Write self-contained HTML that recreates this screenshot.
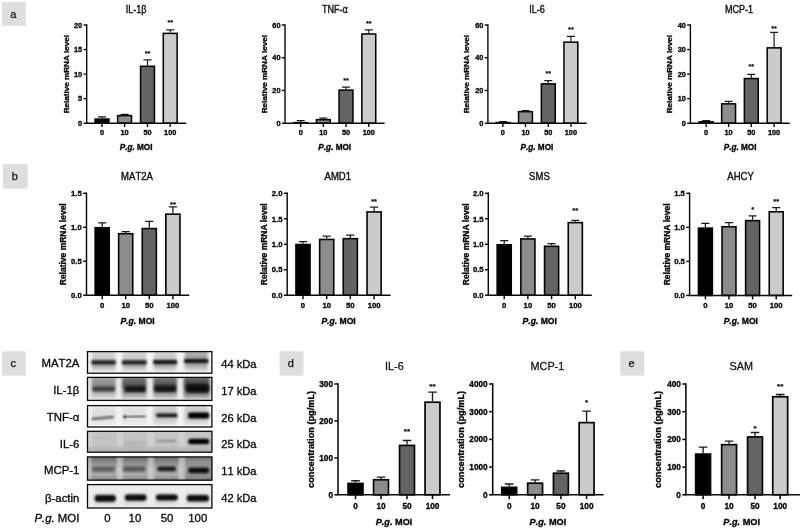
<!DOCTYPE html>
<html><head><meta charset="utf-8"><title>Figure</title>
<style>
html,body{margin:0;padding:0;background:#fff;}
svg{display:block;font-kerning:none;font-family:"Liberation Sans",sans-serif;}
text{fill:#111;}
text.b{stroke:#111;stroke-width:0.35px;fill:#000;}
text.t{stroke:#1a1a1a;stroke-width:0.3px;}
text.w{fill:#0a0a0a;stroke:#0a0a0a;stroke-width:0.32px;}
text.l{fill:#111;stroke:#111;stroke-width:0.25px;}
</style></head><body>
<svg width="800" height="530" viewBox="0 0 800 530">
<rect width="800" height="530" fill="#ffffff"/>
<rect x="2" y="2" width="23.8" height="24" fill="#dedede"/>
<text x="13.30" y="17.60" font-size="11" font-weight="normal" text-anchor="middle" class="l">a</text>
<path d="M102.00 118.29V116.82M98.00 116.82H106.00" stroke="#1c1c1c" stroke-width="1.20" fill="none"/>
<rect x="95.08" y="119.07" width="13.85" height="4.13" fill="#000000" stroke="#050505" stroke-width="1.55"/>
<path d="M124.60 114.85V114.36M120.60 114.36H128.60" stroke="#1c1c1c" stroke-width="1.20" fill="none"/>
<rect x="117.67" y="115.63" width="13.85" height="7.57" fill="#8c8c8c" stroke="#050505" stroke-width="1.55"/>
<path d="M147.50 65.51V59.86M143.50 59.86H151.50" stroke="#1c1c1c" stroke-width="1.20" fill="none"/>
<rect x="140.58" y="66.28" width="13.85" height="56.92" fill="#646464" stroke="#050505" stroke-width="1.55"/>
<text x="147.50" y="55.80" font-size="7.2" font-weight="bold" text-anchor="middle" style="stroke-width:0.15px" class="b">**</text>
<path d="M170.20 32.61V29.91M166.20 29.91H174.20" stroke="#1c1c1c" stroke-width="1.20" fill="none"/>
<rect x="163.28" y="33.39" width="13.85" height="89.81" fill="#cbcbcb" stroke="#050505" stroke-width="1.55"/>
<text x="170.20" y="24.90" font-size="7.2" font-weight="bold" text-anchor="middle" style="stroke-width:0.15px" class="b">**</text>
<path d="M86.70 24.30V123.90M86.00 123.20H186.30" stroke="#0a0a0a" stroke-width="1.40" fill="none"/>
<path d="M83.50 123.20H86.70" stroke="#0a0a0a" stroke-width="1.40"/>
<text x="82.20" y="125.80" font-size="7.35" font-weight="bold" text-anchor="end"  class="b">0</text>
<path d="M83.50 98.65H86.70" stroke="#0a0a0a" stroke-width="1.40"/>
<text x="82.20" y="101.25" font-size="7.35" font-weight="bold" text-anchor="end"  class="b">5</text>
<path d="M83.50 74.10H86.70" stroke="#0a0a0a" stroke-width="1.40"/>
<text x="82.20" y="76.70" font-size="7.35" font-weight="bold" text-anchor="end"  class="b">10</text>
<path d="M83.50 49.55H86.70" stroke="#0a0a0a" stroke-width="1.40"/>
<text x="82.20" y="52.15" font-size="7.35" font-weight="bold" text-anchor="end"  class="b">15</text>
<path d="M83.50 25.00H86.70" stroke="#0a0a0a" stroke-width="1.40"/>
<text x="82.20" y="27.60" font-size="7.35" font-weight="bold" text-anchor="end"  class="b">20</text>
<path d="M102.00 123.20V127.10" stroke="#0a0a0a" stroke-width="1.40"/>
<text x="102.00" y="135.10" font-size="7.35" font-weight="bold" text-anchor="middle"  class="b">0</text>
<path d="M124.60 123.20V127.10" stroke="#0a0a0a" stroke-width="1.40"/>
<text x="124.60" y="135.10" font-size="7.35" font-weight="bold" text-anchor="middle"  class="b">10</text>
<path d="M147.50 123.20V127.10" stroke="#0a0a0a" stroke-width="1.40"/>
<text x="147.50" y="135.10" font-size="7.35" font-weight="bold" text-anchor="middle"  class="b">50</text>
<path d="M170.20 123.20V127.10" stroke="#0a0a0a" stroke-width="1.40"/>
<text x="170.20" y="135.10" font-size="7.35" font-weight="bold" text-anchor="middle"  class="b">100</text>
<text x="136.10" y="150.30" font-size="8.20" font-weight="bold" class="b" text-anchor="middle"><tspan font-style="italic">P.g.</tspan> MOI</text>
<text transform="translate(66.00 74.10) rotate(-90)" font-size="8.10" font-weight="bold" class="b" text-anchor="middle" y="2.90">Relative mRNA level</text>
<text transform="translate(136.00 12.80) scale(0.885 1)" font-size="10.2" text-anchor="middle" fill="#111" class="t" style="stroke-width:0.42px">IL-1β</text>
<path d="M300.70 121.89V120.58M296.70 120.58H304.70" stroke="#1c1c1c" stroke-width="1.20" fill="none"/>
<rect x="293.77" y="122.67" width="13.85" height="0.53" fill="#000000" stroke="#050505" stroke-width="1.55"/>
<path d="M323.30 118.94V118.13M319.30 118.13H327.30" stroke="#1c1c1c" stroke-width="1.20" fill="none"/>
<rect x="316.38" y="119.72" width="13.85" height="3.48" fill="#8c8c8c" stroke="#050505" stroke-width="1.55"/>
<path d="M346.00 89.32V87.19M342.00 87.19H350.00" stroke="#1c1c1c" stroke-width="1.20" fill="none"/>
<rect x="339.07" y="90.10" width="13.85" height="33.10" fill="#646464" stroke="#050505" stroke-width="1.55"/>
<text x="346.00" y="82.70" font-size="7.2" font-weight="bold" text-anchor="middle" style="stroke-width:0.15px" class="b">**</text>
<path d="M368.80 33.18V29.91M364.80 29.91H372.80" stroke="#1c1c1c" stroke-width="1.20" fill="none"/>
<rect x="361.88" y="33.96" width="13.85" height="89.24" fill="#cbcbcb" stroke="#050505" stroke-width="1.55"/>
<text x="368.80" y="26.20" font-size="7.2" font-weight="bold" text-anchor="middle" style="stroke-width:0.15px" class="b">**</text>
<path d="M285.00 24.30V123.90M284.30 123.20H384.60" stroke="#0a0a0a" stroke-width="1.40" fill="none"/>
<path d="M281.80 123.20H285.00" stroke="#0a0a0a" stroke-width="1.40"/>
<text x="280.50" y="125.80" font-size="7.35" font-weight="bold" text-anchor="end"  class="b">0</text>
<path d="M281.80 90.47H285.00" stroke="#0a0a0a" stroke-width="1.40"/>
<text x="280.50" y="93.07" font-size="7.35" font-weight="bold" text-anchor="end"  class="b">20</text>
<path d="M281.80 57.73H285.00" stroke="#0a0a0a" stroke-width="1.40"/>
<text x="280.50" y="60.33" font-size="7.35" font-weight="bold" text-anchor="end"  class="b">40</text>
<path d="M281.80 25.00H285.00" stroke="#0a0a0a" stroke-width="1.40"/>
<text x="280.50" y="27.60" font-size="7.35" font-weight="bold" text-anchor="end"  class="b">60</text>
<path d="M300.70 123.20V127.10" stroke="#0a0a0a" stroke-width="1.40"/>
<text x="300.70" y="135.10" font-size="7.35" font-weight="bold" text-anchor="middle"  class="b">0</text>
<path d="M323.30 123.20V127.10" stroke="#0a0a0a" stroke-width="1.40"/>
<text x="323.30" y="135.10" font-size="7.35" font-weight="bold" text-anchor="middle"  class="b">10</text>
<path d="M346.00 123.20V127.10" stroke="#0a0a0a" stroke-width="1.40"/>
<text x="346.00" y="135.10" font-size="7.35" font-weight="bold" text-anchor="middle"  class="b">50</text>
<path d="M368.80 123.20V127.10" stroke="#0a0a0a" stroke-width="1.40"/>
<text x="368.80" y="135.10" font-size="7.35" font-weight="bold" text-anchor="middle"  class="b">100</text>
<text x="334.75" y="150.30" font-size="8.20" font-weight="bold" class="b" text-anchor="middle"><tspan font-style="italic">P.g.</tspan> MOI</text>
<text transform="translate(264.50 74.10) rotate(-90)" font-size="8.10" font-weight="bold" class="b" text-anchor="middle" y="2.90">Relative mRNA level</text>
<text transform="translate(334.80 12.80) scale(0.885 1)" font-size="10.2" text-anchor="middle" fill="#111" class="t" style="stroke-width:0.42px">TNF-α</text>
<path d="M502.90 121.81V121.56M498.90 121.56H506.90" stroke="#1c1c1c" stroke-width="1.20" fill="none"/>
<rect x="495.97" y="122.58" width="13.85" height="0.62" fill="#000000" stroke="#050505" stroke-width="1.55"/>
<path d="M525.50 110.92V110.60M521.50 110.60H529.50" stroke="#1c1c1c" stroke-width="1.20" fill="none"/>
<rect x="518.57" y="111.70" width="13.85" height="11.50" fill="#8c8c8c" stroke="#050505" stroke-width="1.55"/>
<path d="M548.30 83.10V80.65M544.30 80.65H552.30" stroke="#1c1c1c" stroke-width="1.20" fill="none"/>
<rect x="541.37" y="83.88" width="13.85" height="39.32" fill="#646464" stroke="#050505" stroke-width="1.55"/>
<text x="548.30" y="76.00" font-size="7.2" font-weight="bold" text-anchor="middle" style="stroke-width:0.15px" class="b">**</text>
<path d="M570.90 41.37V36.46M566.90 36.46H574.90" stroke="#1c1c1c" stroke-width="1.20" fill="none"/>
<rect x="563.97" y="42.14" width="13.85" height="81.06" fill="#cbcbcb" stroke="#050505" stroke-width="1.55"/>
<text x="570.90" y="32.20" font-size="7.2" font-weight="bold" text-anchor="middle" style="stroke-width:0.15px" class="b">**</text>
<path d="M487.90 24.30V123.90M487.20 123.20H586.80" stroke="#0a0a0a" stroke-width="1.40" fill="none"/>
<path d="M484.70 123.20H487.90" stroke="#0a0a0a" stroke-width="1.40"/>
<text x="483.40" y="125.80" font-size="7.35" font-weight="bold" text-anchor="end"  class="b">0</text>
<path d="M484.70 90.47H487.90" stroke="#0a0a0a" stroke-width="1.40"/>
<text x="483.40" y="93.07" font-size="7.35" font-weight="bold" text-anchor="end"  class="b">20</text>
<path d="M484.70 57.73H487.90" stroke="#0a0a0a" stroke-width="1.40"/>
<text x="483.40" y="60.33" font-size="7.35" font-weight="bold" text-anchor="end"  class="b">40</text>
<path d="M484.70 25.00H487.90" stroke="#0a0a0a" stroke-width="1.40"/>
<text x="483.40" y="27.60" font-size="7.35" font-weight="bold" text-anchor="end"  class="b">60</text>
<path d="M502.90 123.20V127.10" stroke="#0a0a0a" stroke-width="1.40"/>
<text x="502.90" y="135.10" font-size="7.35" font-weight="bold" text-anchor="middle"  class="b">0</text>
<path d="M525.50 123.20V127.10" stroke="#0a0a0a" stroke-width="1.40"/>
<text x="525.50" y="135.10" font-size="7.35" font-weight="bold" text-anchor="middle"  class="b">10</text>
<path d="M548.30 123.20V127.10" stroke="#0a0a0a" stroke-width="1.40"/>
<text x="548.30" y="135.10" font-size="7.35" font-weight="bold" text-anchor="middle"  class="b">50</text>
<path d="M570.90 123.20V127.10" stroke="#0a0a0a" stroke-width="1.40"/>
<text x="570.90" y="135.10" font-size="7.35" font-weight="bold" text-anchor="middle"  class="b">100</text>
<text x="536.90" y="150.30" font-size="8.20" font-weight="bold" class="b" text-anchor="middle"><tspan font-style="italic">P.g.</tspan> MOI</text>
<text transform="translate(466.50 74.10) rotate(-90)" font-size="8.10" font-weight="bold" class="b" text-anchor="middle" y="2.90">Relative mRNA level</text>
<text transform="translate(537.00 12.80) scale(0.885 1)" font-size="10.2" text-anchor="middle" fill="#111" class="t" style="stroke-width:0.42px">IL-6</text>
<path d="M706.10 120.99V120.50M702.10 120.50H710.10" stroke="#1c1c1c" stroke-width="1.20" fill="none"/>
<rect x="699.17" y="121.77" width="13.85" height="1.43" fill="#000000" stroke="#050505" stroke-width="1.55"/>
<path d="M728.60 103.07V101.35M724.60 101.35H732.60" stroke="#1c1c1c" stroke-width="1.20" fill="none"/>
<rect x="721.67" y="103.84" width="13.85" height="19.36" fill="#8c8c8c" stroke="#050505" stroke-width="1.55"/>
<path d="M751.30 77.78V74.35M747.30 74.35H755.30" stroke="#1c1c1c" stroke-width="1.20" fill="none"/>
<rect x="744.37" y="78.56" width="13.85" height="44.64" fill="#646464" stroke="#050505" stroke-width="1.55"/>
<text x="751.30" y="69.40" font-size="7.2" font-weight="bold" text-anchor="middle" style="stroke-width:0.15px" class="b">**</text>
<path d="M774.10 47.09V32.36M770.10 32.36H778.10" stroke="#1c1c1c" stroke-width="1.20" fill="none"/>
<rect x="767.17" y="47.87" width="13.85" height="75.33" fill="#cbcbcb" stroke="#050505" stroke-width="1.55"/>
<text x="774.10" y="30.50" font-size="7.2" font-weight="bold" text-anchor="middle" style="stroke-width:0.15px" class="b">**</text>
<path d="M690.40 24.30V123.90M689.70 123.20H789.70" stroke="#0a0a0a" stroke-width="1.40" fill="none"/>
<path d="M687.20 123.20H690.40" stroke="#0a0a0a" stroke-width="1.40"/>
<text x="685.90" y="125.80" font-size="7.35" font-weight="bold" text-anchor="end"  class="b">0</text>
<path d="M687.20 98.65H690.40" stroke="#0a0a0a" stroke-width="1.40"/>
<text x="685.90" y="101.25" font-size="7.35" font-weight="bold" text-anchor="end"  class="b">10</text>
<path d="M687.20 74.10H690.40" stroke="#0a0a0a" stroke-width="1.40"/>
<text x="685.90" y="76.70" font-size="7.35" font-weight="bold" text-anchor="end"  class="b">20</text>
<path d="M687.20 49.55H690.40" stroke="#0a0a0a" stroke-width="1.40"/>
<text x="685.90" y="52.15" font-size="7.35" font-weight="bold" text-anchor="end"  class="b">30</text>
<path d="M687.20 25.00H690.40" stroke="#0a0a0a" stroke-width="1.40"/>
<text x="685.90" y="27.60" font-size="7.35" font-weight="bold" text-anchor="end"  class="b">40</text>
<path d="M706.10 123.20V127.10" stroke="#0a0a0a" stroke-width="1.40"/>
<text x="706.10" y="135.10" font-size="7.35" font-weight="bold" text-anchor="middle"  class="b">0</text>
<path d="M728.60 123.20V127.10" stroke="#0a0a0a" stroke-width="1.40"/>
<text x="728.60" y="135.10" font-size="7.35" font-weight="bold" text-anchor="middle"  class="b">10</text>
<path d="M751.30 123.20V127.10" stroke="#0a0a0a" stroke-width="1.40"/>
<text x="751.30" y="135.10" font-size="7.35" font-weight="bold" text-anchor="middle"  class="b">50</text>
<path d="M774.10 123.20V127.10" stroke="#0a0a0a" stroke-width="1.40"/>
<text x="774.10" y="135.10" font-size="7.35" font-weight="bold" text-anchor="middle"  class="b">100</text>
<text x="740.10" y="150.30" font-size="8.20" font-weight="bold" class="b" text-anchor="middle"><tspan font-style="italic">P.g.</tspan> MOI</text>
<text transform="translate(669.50 74.10) rotate(-90)" font-size="8.10" font-weight="bold" class="b" text-anchor="middle" y="2.90">Relative mRNA level</text>
<text transform="translate(739.00 12.80) scale(0.885 1)" font-size="10.2" text-anchor="middle" fill="#111" class="t" style="stroke-width:0.42px">MCP-1</text>
<rect x="3.0" y="164.1" width="24.7" height="24.5" fill="#dedede"/>
<text x="14.75" y="179.95" font-size="11" font-weight="normal" text-anchor="middle" class="l">b</text>
<path d="M102.20 226.93V222.85M98.12 222.85H106.28" stroke="#1c1c1c" stroke-width="1.25" fill="none"/>
<rect x="95.15" y="227.73" width="14.10" height="67.47" fill="#000000" stroke="#050505" stroke-width="1.60"/>
<path d="M125.70 232.91V231.68M121.62 231.68H129.78" stroke="#1c1c1c" stroke-width="1.25" fill="none"/>
<rect x="118.65" y="233.71" width="14.10" height="61.49" fill="#8c8c8c" stroke="#050505" stroke-width="1.60"/>
<path d="M149.30 227.74V221.49M145.22 221.49H153.38" stroke="#1c1c1c" stroke-width="1.25" fill="none"/>
<rect x="142.25" y="228.54" width="14.10" height="66.66" fill="#646464" stroke="#050505" stroke-width="1.60"/>
<path d="M172.90 213.34V206.89M168.82 206.89H176.98" stroke="#1c1c1c" stroke-width="1.25" fill="none"/>
<rect x="165.85" y="214.14" width="14.10" height="81.06" fill="#cbcbcb" stroke="#050505" stroke-width="1.60"/>
<text x="172.90" y="206.86" font-size="7.54" font-weight="bold" text-anchor="middle" style="stroke-width:0.15px" class="b">**</text>
<path d="M86.50 192.58V295.93M85.78 295.20H189.20" stroke="#0a0a0a" stroke-width="1.45" fill="none"/>
<path d="M83.15 295.20H86.50" stroke="#0a0a0a" stroke-width="1.45"/>
<text x="81.79" y="297.92" font-size="7.7" font-weight="bold" text-anchor="end"  class="b">0.0</text>
<path d="M83.15 261.23H86.50" stroke="#0a0a0a" stroke-width="1.45"/>
<text x="81.79" y="263.96" font-size="7.7" font-weight="bold" text-anchor="end"  class="b">0.5</text>
<path d="M83.15 227.27H86.50" stroke="#0a0a0a" stroke-width="1.45"/>
<text x="81.79" y="229.99" font-size="7.7" font-weight="bold" text-anchor="end"  class="b">1.0</text>
<path d="M83.15 193.30H86.50" stroke="#0a0a0a" stroke-width="1.45"/>
<text x="81.79" y="196.02" font-size="7.7" font-weight="bold" text-anchor="end"  class="b">1.5</text>
<path d="M102.20 295.20V299.28" stroke="#0a0a0a" stroke-width="1.45"/>
<text x="102.20" y="307.52" font-size="7.7" font-weight="bold" text-anchor="middle"  class="b">0</text>
<path d="M125.70 295.20V299.28" stroke="#0a0a0a" stroke-width="1.45"/>
<text x="125.70" y="307.52" font-size="7.7" font-weight="bold" text-anchor="middle"  class="b">10</text>
<path d="M149.30 295.20V299.28" stroke="#0a0a0a" stroke-width="1.45"/>
<text x="149.30" y="307.52" font-size="7.7" font-weight="bold" text-anchor="middle"  class="b">50</text>
<path d="M172.90 295.20V299.28" stroke="#0a0a0a" stroke-width="1.45"/>
<text x="172.90" y="307.52" font-size="7.7" font-weight="bold" text-anchor="middle"  class="b">100</text>
<text x="137.55" y="324.13" font-size="8.59" font-weight="bold" class="b" text-anchor="middle"><tspan font-style="italic">P.g.</tspan> MOI</text>
<text transform="translate(62.80 244.25) rotate(-90)" font-size="8.48" font-weight="bold" class="b" text-anchor="middle" y="3.04">Relative mRNA level</text>
<text transform="translate(137.00 180.30) scale(0.955 1)" font-size="10.0" text-anchor="middle" fill="#111" class="t" style="stroke-width:0.42px">MAT2A</text>
<path d="M303.00 243.74V241.70M298.92 241.70H307.08" stroke="#1c1c1c" stroke-width="1.25" fill="none"/>
<rect x="295.95" y="244.54" width="14.10" height="50.66" fill="#000000" stroke="#050505" stroke-width="1.60"/>
<path d="M326.70 238.65V236.10M322.62 236.10H330.78" stroke="#1c1c1c" stroke-width="1.25" fill="none"/>
<rect x="319.65" y="239.45" width="14.10" height="55.75" fill="#8c8c8c" stroke="#050505" stroke-width="1.60"/>
<path d="M350.30 237.88V235.08M346.22 235.08H354.38" stroke="#1c1c1c" stroke-width="1.25" fill="none"/>
<rect x="343.25" y="238.68" width="14.10" height="56.52" fill="#646464" stroke="#050505" stroke-width="1.60"/>
<path d="M374.10 211.13V207.06M370.02 207.06H378.18" stroke="#1c1c1c" stroke-width="1.25" fill="none"/>
<rect x="367.05" y="211.93" width="14.10" height="83.27" fill="#cbcbcb" stroke="#050505" stroke-width="1.60"/>
<text x="374.10" y="203.66" font-size="7.54" font-weight="bold" text-anchor="middle" style="stroke-width:0.15px" class="b">**</text>
<path d="M287.20 192.58V295.93M286.47 295.20H390.60" stroke="#0a0a0a" stroke-width="1.45" fill="none"/>
<path d="M283.85 295.20H287.20" stroke="#0a0a0a" stroke-width="1.45"/>
<text x="282.49" y="297.92" font-size="7.7" font-weight="bold" text-anchor="end"  class="b">0.0</text>
<path d="M283.85 269.73H287.20" stroke="#0a0a0a" stroke-width="1.45"/>
<text x="282.49" y="272.45" font-size="7.7" font-weight="bold" text-anchor="end"  class="b">0.5</text>
<path d="M283.85 244.25H287.20" stroke="#0a0a0a" stroke-width="1.45"/>
<text x="282.49" y="246.97" font-size="7.7" font-weight="bold" text-anchor="end"  class="b">1.0</text>
<path d="M283.85 218.78H287.20" stroke="#0a0a0a" stroke-width="1.45"/>
<text x="282.49" y="221.50" font-size="7.7" font-weight="bold" text-anchor="end"  class="b">1.5</text>
<path d="M283.85 193.30H287.20" stroke="#0a0a0a" stroke-width="1.45"/>
<text x="282.49" y="196.02" font-size="7.7" font-weight="bold" text-anchor="end"  class="b">2.0</text>
<path d="M303.00 295.20V299.28" stroke="#0a0a0a" stroke-width="1.45"/>
<text x="303.00" y="307.52" font-size="7.7" font-weight="bold" text-anchor="middle"  class="b">0</text>
<path d="M326.70 295.20V299.28" stroke="#0a0a0a" stroke-width="1.45"/>
<text x="326.70" y="307.52" font-size="7.7" font-weight="bold" text-anchor="middle"  class="b">10</text>
<path d="M350.30 295.20V299.28" stroke="#0a0a0a" stroke-width="1.45"/>
<text x="350.30" y="307.52" font-size="7.7" font-weight="bold" text-anchor="middle"  class="b">50</text>
<path d="M374.10 295.20V299.28" stroke="#0a0a0a" stroke-width="1.45"/>
<text x="374.10" y="307.52" font-size="7.7" font-weight="bold" text-anchor="middle"  class="b">100</text>
<text x="338.55" y="324.13" font-size="8.59" font-weight="bold" class="b" text-anchor="middle"><tspan font-style="italic">P.g.</tspan> MOI</text>
<text transform="translate(264.20 244.25) rotate(-90)" font-size="8.48" font-weight="bold" class="b" text-anchor="middle" y="3.04">Relative mRNA level</text>
<text transform="translate(337.80 180.30) scale(0.955 1)" font-size="10.0" text-anchor="middle" fill="#111" class="t" style="stroke-width:0.42px">AMD1</text>
<path d="M504.20 244.00V240.68M500.12 240.68H508.28" stroke="#1c1c1c" stroke-width="1.25" fill="none"/>
<rect x="497.15" y="244.80" width="14.10" height="50.40" fill="#000000" stroke="#050505" stroke-width="1.60"/>
<path d="M527.90 238.14V236.10M523.82 236.10H531.98" stroke="#1c1c1c" stroke-width="1.25" fill="none"/>
<rect x="520.85" y="238.94" width="14.10" height="56.26" fill="#8c8c8c" stroke="#050505" stroke-width="1.60"/>
<path d="M551.60 245.52V243.74M547.52 243.74H555.68" stroke="#1c1c1c" stroke-width="1.25" fill="none"/>
<rect x="544.55" y="246.32" width="14.10" height="48.88" fill="#646464" stroke="#050505" stroke-width="1.60"/>
<path d="M575.30 221.83V220.30M571.22 220.30H579.38" stroke="#1c1c1c" stroke-width="1.25" fill="none"/>
<rect x="568.25" y="222.63" width="14.10" height="72.57" fill="#cbcbcb" stroke="#050505" stroke-width="1.60"/>
<text x="575.30" y="213.36" font-size="7.54" font-weight="bold" text-anchor="middle" style="stroke-width:0.15px" class="b">**</text>
<path d="M488.30 192.58V295.93M487.57 295.20H591.80" stroke="#0a0a0a" stroke-width="1.45" fill="none"/>
<path d="M484.95 295.20H488.30" stroke="#0a0a0a" stroke-width="1.45"/>
<text x="483.59" y="297.92" font-size="7.7" font-weight="bold" text-anchor="end"  class="b">0.0</text>
<path d="M484.95 269.73H488.30" stroke="#0a0a0a" stroke-width="1.45"/>
<text x="483.59" y="272.45" font-size="7.7" font-weight="bold" text-anchor="end"  class="b">0.5</text>
<path d="M484.95 244.25H488.30" stroke="#0a0a0a" stroke-width="1.45"/>
<text x="483.59" y="246.97" font-size="7.7" font-weight="bold" text-anchor="end"  class="b">1.0</text>
<path d="M484.95 218.78H488.30" stroke="#0a0a0a" stroke-width="1.45"/>
<text x="483.59" y="221.50" font-size="7.7" font-weight="bold" text-anchor="end"  class="b">1.5</text>
<path d="M484.95 193.30H488.30" stroke="#0a0a0a" stroke-width="1.45"/>
<text x="483.59" y="196.02" font-size="7.7" font-weight="bold" text-anchor="end"  class="b">2.0</text>
<path d="M504.20 295.20V299.28" stroke="#0a0a0a" stroke-width="1.45"/>
<text x="504.20" y="307.52" font-size="7.7" font-weight="bold" text-anchor="middle"  class="b">0</text>
<path d="M527.90 295.20V299.28" stroke="#0a0a0a" stroke-width="1.45"/>
<text x="527.90" y="307.52" font-size="7.7" font-weight="bold" text-anchor="middle"  class="b">10</text>
<path d="M551.60 295.20V299.28" stroke="#0a0a0a" stroke-width="1.45"/>
<text x="551.60" y="307.52" font-size="7.7" font-weight="bold" text-anchor="middle"  class="b">50</text>
<path d="M575.30 295.20V299.28" stroke="#0a0a0a" stroke-width="1.45"/>
<text x="575.30" y="307.52" font-size="7.7" font-weight="bold" text-anchor="middle"  class="b">100</text>
<text x="539.75" y="324.13" font-size="8.59" font-weight="bold" class="b" text-anchor="middle"><tspan font-style="italic">P.g.</tspan> MOI</text>
<text transform="translate(466.00 244.25) rotate(-90)" font-size="8.48" font-weight="bold" class="b" text-anchor="middle" y="3.04">Relative mRNA level</text>
<text transform="translate(539.40 180.30) scale(0.955 1)" font-size="10.0" text-anchor="middle" fill="#111" class="t" style="stroke-width:0.42px">SMS</text>
<path d="M705.40 227.33V223.25M701.37 223.25H709.43" stroke="#1c1c1c" stroke-width="1.25" fill="none"/>
<rect x="698.45" y="228.13" width="13.90" height="67.27" fill="#000000" stroke="#050505" stroke-width="1.60"/>
<path d="M729.00 225.97V222.57M724.97 222.57H733.03" stroke="#1c1c1c" stroke-width="1.25" fill="none"/>
<rect x="722.05" y="226.77" width="13.90" height="68.63" fill="#8c8c8c" stroke="#050505" stroke-width="1.60"/>
<path d="M752.60 219.85V215.76M748.57 215.76H756.63" stroke="#1c1c1c" stroke-width="1.25" fill="none"/>
<rect x="745.65" y="220.65" width="13.90" height="74.75" fill="#646464" stroke="#050505" stroke-width="1.60"/>
<text x="752.60" y="212.36" font-size="7.54" font-weight="bold" text-anchor="middle" style="stroke-width:0.15px" class="b">*</text>
<path d="M776.20 211.00V207.59M772.17 207.59H780.23" stroke="#1c1c1c" stroke-width="1.25" fill="none"/>
<rect x="769.25" y="211.80" width="13.90" height="83.60" fill="#cbcbcb" stroke="#050505" stroke-width="1.60"/>
<text x="776.20" y="203.66" font-size="7.54" font-weight="bold" text-anchor="middle" style="stroke-width:0.15px" class="b">**</text>
<path d="M689.60 192.58V296.12M688.88 295.40H792.20" stroke="#0a0a0a" stroke-width="1.45" fill="none"/>
<path d="M686.25 295.40H689.60" stroke="#0a0a0a" stroke-width="1.45"/>
<text x="684.89" y="298.12" font-size="7.7" font-weight="bold" text-anchor="end"  class="b">0.0</text>
<path d="M686.25 261.37H689.60" stroke="#0a0a0a" stroke-width="1.45"/>
<text x="684.89" y="264.09" font-size="7.7" font-weight="bold" text-anchor="end"  class="b">0.5</text>
<path d="M686.25 227.33H689.60" stroke="#0a0a0a" stroke-width="1.45"/>
<text x="684.89" y="230.06" font-size="7.7" font-weight="bold" text-anchor="end"  class="b">1.0</text>
<path d="M686.25 193.30H689.60" stroke="#0a0a0a" stroke-width="1.45"/>
<text x="684.89" y="196.02" font-size="7.7" font-weight="bold" text-anchor="end"  class="b">1.5</text>
<path d="M705.40 295.40V299.48" stroke="#0a0a0a" stroke-width="1.45"/>
<text x="705.40" y="307.72" font-size="7.7" font-weight="bold" text-anchor="middle"  class="b">0</text>
<path d="M729.00 295.40V299.48" stroke="#0a0a0a" stroke-width="1.45"/>
<text x="729.00" y="307.72" font-size="7.7" font-weight="bold" text-anchor="middle"  class="b">10</text>
<path d="M752.60 295.40V299.48" stroke="#0a0a0a" stroke-width="1.45"/>
<text x="752.60" y="307.72" font-size="7.7" font-weight="bold" text-anchor="middle"  class="b">50</text>
<path d="M776.20 295.40V299.48" stroke="#0a0a0a" stroke-width="1.45"/>
<text x="776.20" y="307.72" font-size="7.7" font-weight="bold" text-anchor="middle"  class="b">100</text>
<text x="740.80" y="324.33" font-size="8.59" font-weight="bold" class="b" text-anchor="middle"><tspan font-style="italic">P.g.</tspan> MOI</text>
<text transform="translate(667.00 244.35) rotate(-90)" font-size="8.48" font-weight="bold" class="b" text-anchor="middle" y="3.04">Relative mRNA level</text>
<text transform="translate(740.60 180.30) scale(0.955 1)" font-size="10.0" text-anchor="middle" fill="#111" class="t" style="stroke-width:0.42px">AHCY</text>
<rect x="2" y="351.3" width="23.8" height="24.4" fill="#dedede"/>
<text x="13.30" y="367.10" font-size="11" font-weight="normal" text-anchor="middle" class="l">c</text>
<rect x="279.6" y="351.3" width="23.8" height="24.4" fill="#dedede"/>
<text x="290.90" y="367.10" font-size="11" font-weight="normal" text-anchor="middle" class="l">d</text>
<rect x="620.3" y="351.3" width="23.8" height="24.4" fill="#dedede"/>
<text x="631.60" y="367.10" font-size="11" font-weight="normal" text-anchor="middle" class="l">e</text>
<path d="M355.50 482.61V480.77M351.18 480.77H359.82" stroke="#1c1c1c" stroke-width="1.35" fill="none"/>
<rect x="348.05" y="483.46" width="14.90" height="11.34" fill="#000000" stroke="#050505" stroke-width="1.70"/>
<path d="M381.00 478.92V477.07M376.68 477.07H385.32" stroke="#1c1c1c" stroke-width="1.35" fill="none"/>
<rect x="373.55" y="479.77" width="14.90" height="15.03" fill="#8c8c8c" stroke="#050505" stroke-width="1.70"/>
<path d="M407.00 444.57V440.51M402.68 440.51H411.32" stroke="#1c1c1c" stroke-width="1.35" fill="none"/>
<rect x="399.55" y="445.42" width="14.90" height="49.38" fill="#646464" stroke="#050505" stroke-width="1.70"/>
<text x="407.00" y="434.22" font-size="8.06" font-weight="bold" text-anchor="middle" style="stroke-width:0.15px" class="b">**</text>
<path d="M432.50 401.36V392.13M428.18 392.13H436.82" stroke="#1c1c1c" stroke-width="1.35" fill="none"/>
<rect x="425.05" y="402.21" width="14.90" height="92.59" fill="#cbcbcb" stroke="#050505" stroke-width="1.70"/>
<text x="432.50" y="388.72" font-size="8.06" font-weight="bold" text-anchor="middle" style="stroke-width:0.15px" class="b">**</text>
<path d="M338.00 383.23V495.57M337.23 494.80H450.00" stroke="#0a0a0a" stroke-width="1.55" fill="none"/>
<path d="M334.42 494.80H338.00" stroke="#0a0a0a" stroke-width="1.55"/>
<text x="332.96" y="497.71" font-size="8.23" font-weight="bold" text-anchor="end"  class="b">0</text>
<path d="M334.42 457.87H338.00" stroke="#0a0a0a" stroke-width="1.55"/>
<text x="332.96" y="460.78" font-size="8.23" font-weight="bold" text-anchor="end"  class="b">100</text>
<path d="M334.42 420.93H338.00" stroke="#0a0a0a" stroke-width="1.55"/>
<text x="332.96" y="423.85" font-size="8.23" font-weight="bold" text-anchor="end"  class="b">200</text>
<path d="M334.42 384.00H338.00" stroke="#0a0a0a" stroke-width="1.55"/>
<text x="332.96" y="386.91" font-size="8.23" font-weight="bold" text-anchor="end"  class="b">300</text>
<path d="M355.50 494.80V499.17" stroke="#0a0a0a" stroke-width="1.55"/>
<text x="355.50" y="508.51" font-size="8.23" font-weight="bold" text-anchor="middle"  class="b">0</text>
<path d="M381.00 494.80V499.17" stroke="#0a0a0a" stroke-width="1.55"/>
<text x="381.00" y="508.51" font-size="8.23" font-weight="bold" text-anchor="middle"  class="b">10</text>
<path d="M407.00 494.80V499.17" stroke="#0a0a0a" stroke-width="1.55"/>
<text x="407.00" y="508.51" font-size="8.23" font-weight="bold" text-anchor="middle"  class="b">50</text>
<path d="M432.50 494.80V499.17" stroke="#0a0a0a" stroke-width="1.55"/>
<text x="432.50" y="508.51" font-size="8.23" font-weight="bold" text-anchor="middle"  class="b">100</text>
<text x="394.00" y="524.84" font-size="9.18" font-weight="bold" class="b" text-anchor="middle"><tspan font-style="italic">P.g.</tspan> MOI</text>
<text transform="translate(311.00 439.40) rotate(-90)" font-size="9.20" font-weight="bold" class="b" text-anchor="middle" y="3.25">concentration (pg/mL)</text>
<text x="394.40" y="369.70" font-size="10.8" font-weight="normal" text-anchor="middle" fill="#151515" class="t">IL-6</text>
<path d="M509.20 486.49V484.00M504.88 484.00H513.52" stroke="#1c1c1c" stroke-width="1.35" fill="none"/>
<rect x="501.75" y="487.34" width="14.90" height="7.46" fill="#000000" stroke="#050505" stroke-width="1.70"/>
<path d="M535.10 482.34V479.84M530.78 479.84H539.42" stroke="#1c1c1c" stroke-width="1.35" fill="none"/>
<rect x="527.65" y="483.19" width="14.90" height="11.61" fill="#8c8c8c" stroke="#050505" stroke-width="1.70"/>
<path d="M560.90 472.36V470.98M556.58 470.98H565.22" stroke="#1c1c1c" stroke-width="1.35" fill="none"/>
<rect x="553.45" y="473.21" width="14.90" height="21.59" fill="#646464" stroke="#050505" stroke-width="1.70"/>
<path d="M586.60 421.78V411.15M582.28 411.15H590.92" stroke="#1c1c1c" stroke-width="1.35" fill="none"/>
<rect x="579.15" y="422.63" width="14.90" height="72.17" fill="#cbcbcb" stroke="#050505" stroke-width="1.70"/>
<text x="586.60" y="404.92" font-size="8.06" font-weight="bold" text-anchor="middle" style="stroke-width:0.15px" class="b">*</text>
<path d="M492.70 383.23V495.57M491.93 494.80H603.60" stroke="#0a0a0a" stroke-width="1.55" fill="none"/>
<path d="M489.12 494.80H492.70" stroke="#0a0a0a" stroke-width="1.55"/>
<text x="487.66" y="497.71" font-size="8.23" font-weight="bold" text-anchor="end"  class="b">0</text>
<path d="M489.12 467.10H492.70" stroke="#0a0a0a" stroke-width="1.55"/>
<text x="487.66" y="470.01" font-size="8.23" font-weight="bold" text-anchor="end"  class="b">1000</text>
<path d="M489.12 439.40H492.70" stroke="#0a0a0a" stroke-width="1.55"/>
<text x="487.66" y="442.31" font-size="8.23" font-weight="bold" text-anchor="end"  class="b">2000</text>
<path d="M489.12 411.70H492.70" stroke="#0a0a0a" stroke-width="1.55"/>
<text x="487.66" y="414.61" font-size="8.23" font-weight="bold" text-anchor="end"  class="b">3000</text>
<path d="M489.12 384.00H492.70" stroke="#0a0a0a" stroke-width="1.55"/>
<text x="487.66" y="386.91" font-size="8.23" font-weight="bold" text-anchor="end"  class="b">4000</text>
<path d="M509.20 494.80V499.17" stroke="#0a0a0a" stroke-width="1.55"/>
<text x="509.20" y="508.51" font-size="8.23" font-weight="bold" text-anchor="middle"  class="b">0</text>
<path d="M535.10 494.80V499.17" stroke="#0a0a0a" stroke-width="1.55"/>
<text x="535.10" y="508.51" font-size="8.23" font-weight="bold" text-anchor="middle"  class="b">10</text>
<path d="M560.90 494.80V499.17" stroke="#0a0a0a" stroke-width="1.55"/>
<text x="560.90" y="508.51" font-size="8.23" font-weight="bold" text-anchor="middle"  class="b">50</text>
<path d="M586.60 494.80V499.17" stroke="#0a0a0a" stroke-width="1.55"/>
<text x="586.60" y="508.51" font-size="8.23" font-weight="bold" text-anchor="middle"  class="b">100</text>
<text x="547.90" y="524.84" font-size="9.18" font-weight="bold" class="b" text-anchor="middle"><tspan font-style="italic">P.g.</tspan> MOI</text>
<text transform="translate(460.60 439.40) rotate(-90)" font-size="9.20" font-weight="bold" class="b" text-anchor="middle" y="3.25">concentration (pg/mL)</text>
<text x="547.40" y="369.70" font-size="10.8" font-weight="normal" text-anchor="middle" fill="#151515" class="t">MCP-1</text>
<path d="M703.10 453.25V447.16M698.78 447.16H707.42" stroke="#1c1c1c" stroke-width="1.35" fill="none"/>
<rect x="695.65" y="454.10" width="14.90" height="40.70" fill="#000000" stroke="#050505" stroke-width="1.70"/>
<path d="M729.10 443.83V441.06M724.78 441.06H733.42" stroke="#1c1c1c" stroke-width="1.35" fill="none"/>
<rect x="721.65" y="444.68" width="14.90" height="50.12" fill="#8c8c8c" stroke="#050505" stroke-width="1.70"/>
<path d="M755.00 436.08V432.48M750.68 432.48H759.32" stroke="#1c1c1c" stroke-width="1.35" fill="none"/>
<rect x="747.55" y="436.93" width="14.90" height="57.87" fill="#646464" stroke="#050505" stroke-width="1.70"/>
<text x="755.00" y="431.22" font-size="8.06" font-weight="bold" text-anchor="middle" style="stroke-width:0.15px" class="b">*</text>
<path d="M780.20 395.91V394.53M775.88 394.53H784.52" stroke="#1c1c1c" stroke-width="1.35" fill="none"/>
<rect x="772.75" y="396.76" width="14.90" height="98.04" fill="#cbcbcb" stroke="#050505" stroke-width="1.70"/>
<text x="780.20" y="388.52" font-size="8.06" font-weight="bold" text-anchor="middle" style="stroke-width:0.15px" class="b">**</text>
<path d="M685.90 383.23V495.57M685.12 494.80H800.00" stroke="#0a0a0a" stroke-width="1.55" fill="none"/>
<path d="M682.32 494.80H685.90" stroke="#0a0a0a" stroke-width="1.55"/>
<text x="680.86" y="497.71" font-size="8.23" font-weight="bold" text-anchor="end"  class="b">0</text>
<path d="M682.32 467.10H685.90" stroke="#0a0a0a" stroke-width="1.55"/>
<text x="680.86" y="470.01" font-size="8.23" font-weight="bold" text-anchor="end"  class="b">100</text>
<path d="M682.32 439.40H685.90" stroke="#0a0a0a" stroke-width="1.55"/>
<text x="680.86" y="442.31" font-size="8.23" font-weight="bold" text-anchor="end"  class="b">200</text>
<path d="M682.32 411.70H685.90" stroke="#0a0a0a" stroke-width="1.55"/>
<text x="680.86" y="414.61" font-size="8.23" font-weight="bold" text-anchor="end"  class="b">300</text>
<path d="M682.32 384.00H685.90" stroke="#0a0a0a" stroke-width="1.55"/>
<text x="680.86" y="386.91" font-size="8.23" font-weight="bold" text-anchor="end"  class="b">400</text>
<path d="M703.10 494.80V499.17" stroke="#0a0a0a" stroke-width="1.55"/>
<text x="703.10" y="508.51" font-size="8.23" font-weight="bold" text-anchor="middle"  class="b">0</text>
<path d="M729.10 494.80V499.17" stroke="#0a0a0a" stroke-width="1.55"/>
<text x="729.10" y="508.51" font-size="8.23" font-weight="bold" text-anchor="middle"  class="b">10</text>
<path d="M755.00 494.80V499.17" stroke="#0a0a0a" stroke-width="1.55"/>
<text x="755.00" y="508.51" font-size="8.23" font-weight="bold" text-anchor="middle"  class="b">50</text>
<path d="M780.20 494.80V499.17" stroke="#0a0a0a" stroke-width="1.55"/>
<text x="780.20" y="508.51" font-size="8.23" font-weight="bold" text-anchor="middle"  class="b">100</text>
<text x="741.65" y="524.84" font-size="9.18" font-weight="bold" class="b" text-anchor="middle"><tspan font-style="italic">P.g.</tspan> MOI</text>
<text transform="translate(657.60 439.40) rotate(-90)" font-size="9.20" font-weight="bold" class="b" text-anchor="middle" y="3.25">concentration (pg/mL)</text>
<text x="741.30" y="369.70" font-size="10.8" font-weight="normal" text-anchor="middle" fill="#151515" class="t">SAM</text>
<defs><filter id="b1" x="-20%" y="-60%" width="140%" height="220%"><feGaussianBlur stdDeviation="0.9 0.8"/></filter><filter id="b2" x="-30%" y="-30%" width="160%" height="160%"><feGaussianBlur stdDeviation="1.6 1.4"/></filter><filter id="b3" x="-30%" y="-30%" width="160%" height="160%"><feGaussianBlur stdDeviation="2.5 1.5"/></filter>
<linearGradient id="s0" x1="0" y1="0" x2="0" y2="1"><stop offset="0" stop-color="#d4d4d4"/><stop offset="0.42" stop-color="#c8c8c8"/><stop offset="0.55" stop-color="#8e8e8e"/><stop offset="0.78" stop-color="#b2b2b2"/><stop offset="1" stop-color="#ececec"/></linearGradient>
<linearGradient id="s0d" x1="0" y1="0" x2="0" y2="1"><stop offset="0" stop-color="#b4b4b4"/><stop offset="0.35" stop-color="#a0a0a0"/><stop offset="0.55" stop-color="#8e8e8e"/><stop offset="0.8" stop-color="#b8b8b8"/><stop offset="1" stop-color="#e8e8e8"/></linearGradient>
<linearGradient id="s1" x1="0" y1="0" x2="0" y2="1"><stop offset="0" stop-color="#7c7c7c"/><stop offset="0.4" stop-color="#4e4e4e"/><stop offset="0.7" stop-color="#888888"/><stop offset="1" stop-color="#dcdcdc"/></linearGradient>
<linearGradient id="s1l" x1="0" y1="0" x2="0" y2="1"><stop offset="0" stop-color="#a2a2a2"/><stop offset="0.45" stop-color="#8a8a8a"/><stop offset="0.7" stop-color="#b0b0b0"/><stop offset="1" stop-color="#e2e2e2"/></linearGradient>
<linearGradient id="s1d" x1="0" y1="0" x2="0" y2="1"><stop offset="0" stop-color="#6e6e6e"/><stop offset="0.4" stop-color="#383838"/><stop offset="0.75" stop-color="#747474"/><stop offset="1" stop-color="#cccccc"/></linearGradient>
<linearGradient id="s2" x1="0" y1="0" x2="0" y2="1"><stop offset="0" stop-color="#e6e6e6"/><stop offset="0.5" stop-color="#dcdcdc"/><stop offset="1" stop-color="#ececec"/></linearGradient>
<linearGradient id="s2d" x1="0" y1="0" x2="0" y2="1"><stop offset="0" stop-color="#d4d4d4"/><stop offset="0.5" stop-color="#c2c2c2"/><stop offset="0.8" stop-color="#d0d0d0"/><stop offset="1" stop-color="#e6e6e6"/></linearGradient>
<linearGradient id="s4" x1="0" y1="0" x2="0" y2="1"><stop offset="0" stop-color="#686868"/><stop offset="0.25" stop-color="#8e8e8e"/><stop offset="0.5" stop-color="#aaaaaa"/><stop offset="0.8" stop-color="#a8a8a8"/><stop offset="1" stop-color="#808080"/></linearGradient>
<linearGradient id="s4d" x1="0" y1="0" x2="0" y2="1"><stop offset="0" stop-color="#5c5c5c"/><stop offset="0.2" stop-color="#8c8c8c"/><stop offset="0.5" stop-color="#999"/><stop offset="0.8" stop-color="#8e8e8e"/><stop offset="1" stop-color="#6a6a6a"/></linearGradient>
</defs>
<clipPath id="cp0"><rect x="87.2" y="351.6" width="125.0" height="21.60"/></clipPath>
<g clip-path="url(#cp0)">
<rect x="87.2" y="351.6" width="125.0" height="21.60" fill="#f4f4f4"/>
<rect x="92.0" y="350.60" width="23.3" height="21.10" rx="1.5" fill="url(#s0)" opacity="1" filter="url(#b2)"/>
<rect x="122.5" y="350.60" width="23.5" height="21.10" rx="1.5" fill="url(#s0)" opacity="1" filter="url(#b2)"/>
<rect x="153.8" y="350.60" width="22.7" height="21.10" rx="1.5" fill="url(#s0)" opacity="1" filter="url(#b2)"/>
<rect x="184.7" y="350.60" width="23.0" height="21.10" rx="1.5" fill="url(#s0d)" opacity="1" filter="url(#b2)"/>
<rect x="91.5" y="360.50" width="24.3" height="3.80" rx="0.8" fill="#1a1a1a" opacity="1" filter="url(#b1)"/>
<rect x="122.0" y="360.50" width="24.5" height="3.80" rx="0.8" fill="#1a1a1a" opacity="1" filter="url(#b1)"/>
<rect x="153.3" y="360.10" width="23.7" height="4.00" rx="0.8" fill="#141414" opacity="1" filter="url(#b1)"/>
<rect x="184.2" y="358.90" width="24.0" height="4.20" rx="0.8" fill="#121212" opacity="1" filter="url(#b1)"/>
</g>
<rect x="87.5" y="351.6" width="124.4" height="21.60" fill="none" stroke="#0a0a0a" stroke-width="1.3"/>
<text x="79.40" y="366.70" font-size="11.4" font-weight="normal" text-anchor="end" class="w">MAT2A</text>
<text x="221.20" y="367.50" font-size="11.15" font-weight="normal" text-anchor="start" class="w">44 kDa</text>
<clipPath id="cp1"><rect x="87.2" y="377.4" width="125.0" height="23.00"/></clipPath>
<g clip-path="url(#cp1)">
<rect x="87.2" y="377.4" width="125.0" height="23.00" fill="#ebebeb"/>
<rect x="91.5" y="376.40" width="24.3" height="23.00" rx="1.5" fill="url(#s1l)" opacity="1" filter="url(#b2)"/>
<rect x="122.0" y="376.40" width="24.5" height="23.00" rx="1.5" fill="url(#s1)" opacity="1" filter="url(#b2)"/>
<rect x="153.3" y="376.40" width="23.7" height="23.00" rx="1.5" fill="url(#s1)" opacity="1" filter="url(#b2)"/>
<rect x="183.7" y="376.40" width="26.0" height="23.00" rx="1.5" fill="url(#s1d)" opacity="1" filter="url(#b2)"/>
<rect x="92.5" y="386.60" width="22.3" height="5.00" rx="1.5" fill="#3a3a3a" opacity="0.95" filter="url(#b1)"/>
<rect x="125.0" y="386.00" width="20.5" height="6.00" rx="1.5" fill="#151515" opacity="1" filter="url(#b1)"/>
<rect x="154.3" y="385.60" width="21.7" height="6.40" rx="1.5" fill="#141414" opacity="1" filter="url(#b1)"/>
<rect x="186.2" y="384.40" width="23.0" height="8.20" rx="3" fill="#0a0a0a" opacity="1" filter="url(#b1)"/>
</g>
<rect x="87.5" y="377.4" width="124.4" height="23.00" fill="none" stroke="#0a0a0a" stroke-width="1.3"/>
<text x="79.40" y="394.10" font-size="11.4" font-weight="normal" text-anchor="end" class="w">IL-1β</text>
<text x="221.20" y="394.80" font-size="11.15" font-weight="normal" text-anchor="start" class="w">17 kDa</text>
<clipPath id="cp2"><rect x="87.2" y="405.6" width="125.0" height="21.40"/></clipPath>
<g clip-path="url(#cp2)">
<rect x="87.2" y="405.6" width="125.0" height="21.40" fill="#f4f4f4"/>
<rect x="91.5" y="405.60" width="24.3" height="19.40" rx="1.5" fill="url(#s2)" opacity="1" filter="url(#b2)"/>
<rect x="122.0" y="405.60" width="24.5" height="19.40" rx="1.5" fill="url(#s2)" opacity="1" filter="url(#b2)"/>
<rect x="153.3" y="405.60" width="23.7" height="19.40" rx="1.5" fill="url(#s2d)" opacity="1" filter="url(#b2)"/>
<rect x="184.2" y="405.60" width="24.0" height="19.40" rx="1.5" fill="url(#s2d)" opacity="1" filter="url(#b2)"/>
<path d="M92.5 419.0 L112.8 417.0" stroke="#555" stroke-width="2.3" opacity="0.9" stroke-linecap="round" filter="url(#b1)"/>
<path d="M124 417.2 L145.0 416.4" stroke="#5a5a5a" stroke-width="2.1" opacity="0.9" stroke-linecap="round" filter="url(#b1)"/>
<circle cx="125" cy="417" r="1.4" fill="#333" filter="url(#b1)"/>
<rect x="156.3" y="413.60" width="21.2" height="3.60" rx="1.5" fill="#141414" opacity="1" filter="url(#b1)"/>
<rect x="188.2" y="412.60" width="21.0" height="6.00" rx="1.5" fill="#060606" opacity="1" filter="url(#b1)"/>
</g>
<rect x="87.5" y="405.6" width="124.4" height="21.40" fill="none" stroke="#0a0a0a" stroke-width="1.3"/>
<text x="79.40" y="421.00" font-size="11.4" font-weight="normal" text-anchor="end" class="w">TNF-α</text>
<text x="221.20" y="421.60" font-size="11.15" font-weight="normal" text-anchor="start" class="w">26 kDa</text>
<clipPath id="cp3"><rect x="87.2" y="431.3" width="125.0" height="20.90"/></clipPath>
<g clip-path="url(#cp3)">
<rect x="87.2" y="431.3" width="125.0" height="20.90" fill="#c4c4c4"/>
<rect x="85.7" y="431.30" width="5.0" height="20.90" rx="1.2" fill="#dcdcdc" opacity="0.85" filter="url(#b3)"/>
<rect x="117.5" y="431.30" width="5.0" height="20.90" rx="1.2" fill="#dcdcdc" opacity="0.85" filter="url(#b3)"/>
<rect x="148.5" y="431.30" width="5.0" height="20.90" rx="1.2" fill="#dcdcdc" opacity="0.85" filter="url(#b3)"/>
<rect x="179.5" y="431.30" width="5.0" height="20.90" rx="1.2" fill="#dcdcdc" opacity="0.85" filter="url(#b3)"/>
<rect x="87.2" y="447.20" width="125.0" height="7.00" rx="1.2" fill="#b0b0b0" opacity="0.8" filter="url(#b3)"/>
<rect x="93.5" y="437.20" width="16.3" height="1.40" rx="1.5" fill="#aaa" opacity="0.7" filter="url(#b1)"/>
<rect x="124.0" y="441.00" width="20.5" height="7.00" rx="1.5" fill="#b4b4b4" opacity="0.8" filter="url(#b2)"/>
<rect x="156.3" y="440.00" width="19.7" height="2.00" rx="1.5" fill="#808080" opacity="0.85" filter="url(#b1)"/>
<rect x="188.2" y="438.80" width="21.0" height="5.40" rx="2.5" fill="#040404" opacity="1" filter="url(#b1)"/>
</g>
<rect x="87.5" y="431.3" width="124.4" height="20.90" fill="none" stroke="#0a0a0a" stroke-width="1.3"/>
<text x="79.40" y="447.75" font-size="11.4" font-weight="normal" text-anchor="end" class="w">IL-6</text>
<text x="221.20" y="448.25" font-size="11.15" font-weight="normal" text-anchor="start" class="w">25 kDa</text>
<clipPath id="cp4"><rect x="87.2" y="456.9" width="125.0" height="23.30"/></clipPath>
<g clip-path="url(#cp4)">
<rect x="87.2" y="456.9" width="125.0" height="23.30" fill="#c8c8c8"/>
<rect x="87.2" y="456.9" width="125.0" height="23.30" fill="url(#s4)"/>
<rect x="182.2" y="454.90" width="33.0" height="27.30" rx="1.2" fill="url(#s4d)" opacity="1" filter="url(#b2)"/>
<rect x="85.5" y="454.90" width="4.5" height="27.30" rx="1.2" fill="#e6e6e6" opacity="0.85" filter="url(#b3)"/>
<rect x="117.5" y="454.90" width="4.5" height="27.30" rx="1.2" fill="#e6e6e6" opacity="0.85" filter="url(#b3)"/>
<rect x="148.5" y="454.90" width="4.5" height="27.30" rx="1.2" fill="#e6e6e6" opacity="0.85" filter="url(#b3)"/>
<rect x="179.5" y="454.90" width="4.5" height="27.30" rx="1.2" fill="#e6e6e6" opacity="0.85" filter="url(#b3)"/>
<rect x="92.0" y="466.80" width="22.8" height="4.80" rx="1.5" fill="#505050" opacity="0.95" filter="url(#b2)"/>
<rect x="123.0" y="466.60" width="22.5" height="4.80" rx="1.5" fill="#4c4c4c" opacity="0.95" filter="url(#b2)"/>
<rect x="157.3" y="466.40" width="18.7" height="4.80" rx="2.2" fill="#1a1a1a" opacity="1" filter="url(#b1)"/>
<rect x="188.2" y="467.60" width="21.0" height="5.60" rx="2.5" fill="#101010" opacity="1" filter="url(#b1)"/>
</g>
<rect x="87.5" y="456.9" width="124.4" height="23.30" fill="none" stroke="#0a0a0a" stroke-width="1.3"/>
<text x="79.40" y="474.45" font-size="11.4" font-weight="normal" text-anchor="end" class="w">MCP-1</text>
<text x="221.20" y="475.05" font-size="11.15" font-weight="normal" text-anchor="start" class="w">11 kDa</text>
<clipPath id="cp5"><rect x="87.2" y="484.6" width="125.0" height="23.40"/></clipPath>
<g clip-path="url(#cp5)">
<rect x="87.2" y="484.6" width="125.0" height="23.40" fill="#ececec"/>
<rect x="93.5" y="493.00" width="22.3" height="12.00" rx="1.5" fill="#d4d4d4" opacity="0.9" filter="url(#b2)"/>
<rect x="124.0" y="493.00" width="22.5" height="12.00" rx="1.5" fill="#d4d4d4" opacity="0.9" filter="url(#b2)"/>
<rect x="155.3" y="493.00" width="21.7" height="12.00" rx="1.5" fill="#d4d4d4" opacity="0.9" filter="url(#b2)"/>
<rect x="186.2" y="493.00" width="22.0" height="12.00" rx="1.5" fill="#d4d4d4" opacity="0.9" filter="url(#b2)"/>
<rect x="94.7" y="495.00" width="21.1" height="6.80" rx="3" fill="#080808" opacity="1" filter="url(#b1)"/>
<rect x="124.8" y="494.60" width="21.7" height="6.20" rx="3" fill="#080808" opacity="1" filter="url(#b1)"/>
<rect x="155.9" y="494.40" width="21.9" height="6.20" rx="3" fill="#080808" opacity="1" filter="url(#b1)"/>
<rect x="186.8" y="495.00" width="22.2" height="6.40" rx="3" fill="#080808" opacity="1" filter="url(#b1)"/>
</g>
<rect x="87.5" y="484.6" width="124.4" height="23.40" fill="none" stroke="#0a0a0a" stroke-width="1.3"/>
<text x="79.40" y="501.70" font-size="11.4" font-weight="normal" text-anchor="end" class="w">β-actin</text>
<text x="221.20" y="502.40" font-size="11.15" font-weight="normal" text-anchor="start" class="w">42 kDa</text>
<text x="79.4" y="522.0" font-size="11.4" text-anchor="end" class="w"><tspan font-style="italic">P.g.</tspan> MOI</text>
<text x="107.30" y="522.40" font-size="11.4" font-weight="normal" text-anchor="middle" class="w">0</text>
<text x="134.90" y="522.40" font-size="11.4" font-weight="normal" text-anchor="middle" class="w">10</text>
<text x="167.00" y="522.40" font-size="11.4" font-weight="normal" text-anchor="middle" class="w">50</text>
<text x="197.80" y="522.40" font-size="11.4" font-weight="normal" text-anchor="middle" class="w">100</text>
</svg>
</body></html>
